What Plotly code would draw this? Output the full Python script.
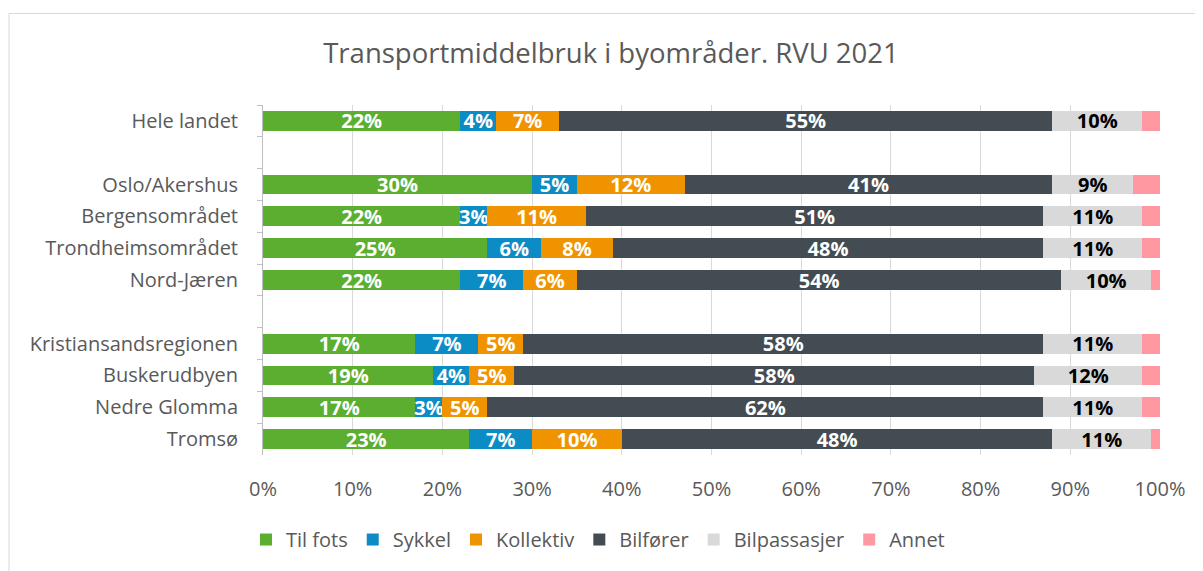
import plotly.graph_objects as go

categories = ["Hele landet", " ", "Oslo/Akershus", "Bergensområdet", "Trondheimsområdet",
              "Nord-Jæren", "  ", "Kristiansandsregionen", "Buskerudbyen", "Nedre Glomma", "Tromsø"]
regions = ["Hele landet", "Oslo/Akershus", "Bergensområdet", "Trondheimsområdet",
           "Nord-Jæren", "Kristiansandsregionen", "Buskerudbyen", "Nedre Glomma", "Tromsø"]

til_fots = [22, 30, 22, 25, 22, 17, 19, 17, 23]
sykkel = [4, 5, 3, 6, 7, 7, 4, 3, 7]
kollektiv = [7, 12, 11, 8, 6, 5, 5, 5, 10]
bilforer = [55, 41, 51, 48, 54, 58, 58, 62, 48]
bilpassasjer = [10, 9, 11, 11, 10, 11, 12, 11, 11]
annet = [2, 3, 2, 2, 1, 2, 2, 2, 1]

x_ticks = [0, 10, 20, 30, 40, 50, 60, 70, 80, 90, 100]
x_ticklabels = ["0%", "10%", "20%", "30%", "40%", "50%", "60%", "70%", "80%", "90%", "100%"]

series = [
    ("Til fots", til_fots, "#5BAE2F", "white", True),
    ("Sykkel", sykkel, "#0C8CC4", "white", True),
    ("Kollektiv", kollektiv, "#EF9300", "white", True),
    ("Bilfører", bilforer, "#444C53", "white", True),
    ("Bilpassasjer", bilpassasjer, "#D9D9D9", "black", True),
    ("Annet", annet, "#FF98A0", "black", False),
]

FONT = "Open Sans"
GREY = "#595959"

# page body offset (~8px) compensated: plot area on screen x 263..1160, y 105..457
W, H = 1195, 563
L, T = 255, 97
PW, PH = 897, 352
R = W - L - PW
B = H - T - PH

def px_x(sx):
    return (sx - 8 - L) / PW

def px_y(sy):
    return (T + PH - (sy - 8)) / PH

fig = go.Figure()
for name, vals, color, tcolor, show in series:
    fig.add_trace(go.Bar(
        y=regions, x=vals, name=name, orientation="h",
        marker=dict(color=color, line=dict(width=0)),
        text=[f"{v}%" for v in vals] if show else None,
        texttemplate="%{text}" if show else None,
        textposition="inside" if show else "none",
        insidetextanchor="middle",
        textangle=0,
        constraintext="none",
        textfont=dict(family=FONT, size=20, color=tcolor, weight="bold"),
        hoverinfo="skip",
    ))

fig.update_layout(
    barmode="stack",
    bargap=0.375,
    width=W, height=H,
    margin=dict(l=L, r=R, t=T, b=B, pad=0),
    paper_bgcolor="white", plot_bgcolor="white",
    title=dict(text="Transportmiddelbruk i byområder. RVU 2021",
               x=(611 - 8) / W, xref="container", xanchor="center",
               y=1 - (53 - 8) / H, yref="container", yanchor="middle",
               font=dict(family=FONT, size=27.5, color=GREY)),
    font=dict(family=FONT, color=GREY),
    showlegend=True,
    legend=dict(orientation="h", x=px_x(246), xanchor="left", y=px_y(542), yanchor="middle",
                font=dict(family=FONT, size=20, color=GREY),
                traceorder="normal", itemwidth=30),
    xaxis=dict(range=[0, 100], tickvals=x_ticks, ticktext=x_ticklabels,
               showgrid=True, gridcolor="#D9D9D9", gridwidth=1, zeroline=False,
               showline=False, ticks="", tickfont=dict(family=FONT, size=20, color=GREY),
               ticklabelstandoff=20, fixedrange=True),
    yaxis=dict(categoryorder="array", categoryarray=categories, autorange="reversed",
               type="category", showline=True, linecolor="#BFBFBF", linewidth=1,
               ticks="outside", tickson="boundaries", ticklen=5, tickcolor="#BFBFBF",
               showgrid=False, tickfont=dict(family=FONT, size=20, color=GREY),
               ticklabelstandoff=20, fixedrange=True),
    shapes=[dict(type="rect", xref="paper", yref="paper",
                 x0=px_x(9), x1=px_x(1260),
                 y0=px_y(640), y1=px_y(13),
                 line=dict(color="#D9D9D9", width=1), fillcolor="rgba(0,0,0,0)", layer="below")],
)

fig.write_html("out.html")
